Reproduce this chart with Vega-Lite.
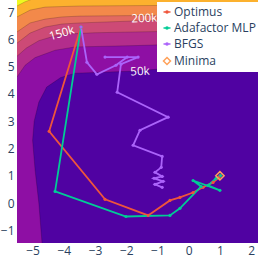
{
  "$schema": "https://vega.github.io/schema/vega-lite/v6.json",
  "width": 241,
  "height": 243,
  "autosize": "none",
  "padding": {"left": 17, "top": 0, "right": 0, "bottom": 15},
  "config": {
    "view": {"stroke": null, "fill": "#f0f921"},
    "font": "Open Sans",
    "axis": {"grid": false, "domain": false, "ticks": false, "labelFont": "Open Sans", "labelFontSize": 12, "labelColor": "#2a3f5f", "title": null, "labelOverlap": false, "labelBound": false}
  },
  "datasets": {
    "bands": [
      {"b": "b6", "i": 0, "x": -7, "y": -3}, {"b": "b6", "i": 1, "x": -7, "y": 7.0}, {"b": "b6", "i": 2, "x": -5.5, "y": 7.22}, {"b": "b6", "i": 3, "x": -5.25, "y": 7.37}, {"b": "b6", "i": 4, "x": -4.95, "y": 7.5}, {"b": "b6", "i": 5, "x": -4.6, "y": 7.6}, {"b": "b6", "i": 6, "x": 3, "y": 7.6}, {"b": "b6", "i": 7, "x": 3, "y": -3},
      {"b": "b5", "i": 0, "x": -7, "y": -3}, {"b": "b5", "i": 1, "x": -7, "y": 6.4}, {"b": "b5", "i": 2, "x": -5.5, "y": 6.82}, {"b": "b5", "i": 3, "x": -5.08, "y": 7.07}, {"b": "b5", "i": 4, "x": -4.6, "y": 7.18}, {"b": "b5", "i": 5, "x": -3.5, "y": 7.22}, {"b": "b5", "i": 6, "x": 3, "y": 7.27}, {"b": "b5", "i": 7, "x": 3, "y": -3},
      {"b": "b4", "i": 0, "x": -7, "y": -3}, {"b": "b4", "i": 1, "x": -7, "y": 5.8}, {"b": "b4", "i": 2, "x": -5.5, "y": 6.27}, {"b": "b4", "i": 3, "x": -5.08, "y": 6.6}, {"b": "b4", "i": 4, "x": -4.6, "y": 6.74}, {"b": "b4", "i": 5, "x": -4.06, "y": 6.82}, {"b": "b4", "i": 6, "x": -3.48, "y": 6.85}, {"b": "b4", "i": 7, "x": 3, "y": 6.92}, {"b": "b4", "i": 8, "x": 3, "y": -3},
      {"b": "b3", "i": 0, "x": -7, "y": -3}, {"b": "b3", "i": 1, "x": -7, "y": 5.4}, {"b": "b3", "i": 2, "x": -5.5, "y": 5.86}, {"b": "b3", "i": 3, "x": -5.08, "y": 6.23}, {"b": "b3", "i": 4, "x": -4.6, "y": 6.45}, {"b": "b3", "i": 5, "x": -4.06, "y": 6.56}, {"b": "b3", "i": 6, "x": -3.48, "y": 6.6}, {"b": "b3", "i": 7, "x": -1.56, "y": 6.68}, {"b": "b3", "i": 8, "x": 3, "y": 6.78}, {"b": "b3", "i": 9, "x": 3, "y": -3},
      {"b": "b2", "i": 0, "x": -7, "y": -3}, {"b": "b2", "i": 1, "x": -7, "y": 4.9}, {"b": "b2", "i": 2, "x": -5.5, "y": 5.38}, {"b": "b2", "i": 3, "x": -5.2, "y": 5.68}, {"b": "b2", "i": 4, "x": -4.8, "y": 5.95}, {"b": "b2", "i": 5, "x": -4.3, "y": 6.12}, {"b": "b2", "i": 6, "x": -3.8, "y": 6.2}, {"b": "b2", "i": 7, "x": -3.0, "y": 6.24}, {"b": "b2", "i": 8, "x": -1.72, "y": 6.27}, {"b": "b2", "i": 9, "x": 3, "y": 6.36}, {"b": "b2", "i": 10, "x": 3, "y": -3},
      {"b": "b1", "i": 0, "x": -7, "y": -3}, {"b": "b1", "i": 1, "x": -7, "y": 4.3}, {"b": "b1", "i": 2, "x": -5.5, "y": 4.62}, {"b": "b1", "i": 3, "x": -5.24, "y": 5.05}, {"b": "b1", "i": 4, "x": -4.92, "y": 5.33}, {"b": "b1", "i": 5, "x": -4.28, "y": 5.6}, {"b": "b1", "i": 6, "x": -3.64, "y": 5.72}, {"b": "b1", "i": 7, "x": -1.72, "y": 5.77}, {"b": "b1", "i": 8, "x": 0.5, "y": 5.85}, {"b": "b1", "i": 9, "x": 3, "y": 5.92}, {"b": "b1", "i": 10, "x": 3, "y": -3},
      {"b": "b0", "i": 0, "x": -4.72, "y": -3}, {"b": "b0", "i": 1, "x": -4.7, "y": -1.44}, {"b": "b0", "i": 2, "x": -4.8, "y": 0}, {"b": "b0", "i": 3, "x": -4.92, "y": 1.2}, {"b": "b0", "i": 4, "x": -5.0, "y": 2.3}, {"b": "b0", "i": 5, "x": -4.95, "y": 3.0}, {"b": "b0", "i": 6, "x": -4.8, "y": 3.7}, {"b": "b0", "i": 7, "x": -4.55, "y": 4.25}, {"b": "b0", "i": 8, "x": -4.1, "y": 4.6}, {"b": "b0", "i": 9, "x": -3.64, "y": 4.76}, {"b": "b0", "i": 10, "x": -3.16, "y": 4.78}, {"b": "b0", "i": 11, "x": -1.88, "y": 4.83}, {"b": "b0", "i": 12, "x": -0.6, "y": 4.94}, {"b": "b0", "i": 13, "x": 0.69, "y": 5.02}, {"b": "b0", "i": 14, "x": 3, "y": 5.12}, {"b": "b0", "i": 15, "x": 3, "y": -3}
    ],
    "traj": [
      {"s": "Optimus", "i": 0, "x": -3.45, "y": 6.45}, {"s": "Optimus", "i": 1, "x": -4.47, "y": 2.63}, {"s": "Optimus", "i": 2, "x": -2.68, "y": 0.14}, {"s": "Optimus", "i": 3, "x": -1.3, "y": -0.45}, {"s": "Optimus", "i": 4, "x": -0.6, "y": 0.1}, {"s": "Optimus", "i": 5, "x": -0.28, "y": 0.21}, {"s": "Optimus", "i": 6, "x": 0.14, "y": 0.39}, {"s": "Optimus", "i": 7, "x": 0.46, "y": 0.58}, {"s": "Optimus", "i": 8, "x": 0.78, "y": 0.76}, {"s": "Optimus", "i": 9, "x": 0.97, "y": 0.94}, {"s": "Optimus", "i": 10, "x": 1.0, "y": 1.0},
      {"s": "Adafactor MLP", "i": 0, "x": -3.45, "y": 6.45}, {"s": "Adafactor MLP", "i": 1, "x": -4.28, "y": 0.43}, {"s": "Adafactor MLP", "i": 2, "x": -2.01, "y": -0.49}, {"s": "Adafactor MLP", "i": 3, "x": -0.6, "y": -0.45}, {"s": "Adafactor MLP", "i": 4, "x": -0.28, "y": -0.19}, {"s": "Adafactor MLP", "i": 5, "x": 0.4, "y": 0.61}, {"s": "Adafactor MLP", "i": 6, "x": 0.14, "y": 0.83}, {"s": "Adafactor MLP", "i": 7, "x": 1.0, "y": 0.47}, {"s": "Adafactor MLP", "i": 8, "x": 0.62, "y": 0.65}, {"s": "Adafactor MLP", "i": 9, "x": 0.88, "y": 0.91}, {"s": "Adafactor MLP", "i": 10, "x": 1.02, "y": 1.01},
      {"s": "BFGS", "i": 0, "x": -3.45, "y": 6.45}, {"s": "BFGS", "i": 1, "x": -3.26, "y": 5.16}, {"s": "BFGS", "i": 2, "x": -2.94, "y": 4.72}, {"s": "BFGS", "i": 3, "x": -2.33, "y": 5.05}, {"s": "BFGS", "i": 4, "x": -1.97, "y": 5.35}, {"s": "BFGS", "i": 5, "x": -2.68, "y": 5.35}, {"s": "BFGS", "i": 6, "x": -1.62, "y": 5.35}, {"s": "BFGS", "i": 7, "x": -2.17, "y": 5.09}, {"s": "BFGS", "i": 8, "x": -2.29, "y": 4.06}, {"s": "BFGS", "i": 9, "x": -0.66, "y": 3.15}, {"s": "BFGS", "i": 10, "x": -1.56, "y": 2.67}, {"s": "BFGS", "i": 11, "x": -1.78, "y": 2.12}, {"s": "BFGS", "i": 12, "x": -0.85, "y": 1.71}, {"s": "BFGS", "i": 13, "x": -0.88, "y": 1.31}, {"s": "BFGS", "i": 14, "x": -1.08, "y": 1.13}, {"s": "BFGS", "i": 15, "x": -0.85, "y": 0.98}, {"s": "BFGS", "i": 16, "x": -1.11, "y": 0.91}, {"s": "BFGS", "i": 17, "x": -0.82, "y": 0.8}, {"s": "BFGS", "i": 18, "x": -1.08, "y": 0.69}, {"s": "BFGS", "i": 19, "x": -0.85, "y": 0.58}
    ],
    "minima": [{"s": "Minima", "x": 1, "y": 1}],
    "labels": [
      {"t": "150k", "x": -4.06, "y": 6.2, "a": -16},
      {"t": "50k", "x": -1.56, "y": 4.8, "a": -3},
      {"t": "200k", "x": -1.42, "y": 6.74, "a": -2}
    ]
  },
  "encoding": {
    "x": {"field": "x", "type": "quantitative", "scale": {"domain": [-5.5, 2.22], "nice": false, "zero": false}, "axis": {"values": [-5, -4, -3, -2, -1, 0, 1, 2], "labelPadding": 2, "labelOverlap": false}},
    "y": {"field": "y", "type": "quantitative", "scale": {"domain": [-1.46, 7.44], "nice": false, "zero": false}, "axis": {"values": [-1, 0, 1, 2, 3, 4, 5, 6, 7], "labelPadding": 3, "labelOverlap": false}}
  },
  "layer": [
    {
      "data": {"name": "bands"},
      "mark": {"type": "line", "clip": true, "strokeWidth": 0.6, "stroke": "#000000", "strokeOpacity": 0.3},
      "encoding": {
        "fill": {"field": "b", "type": "nominal", "scale": {"domain": ["b6", "b5", "b4", "b3", "b2", "b1", "b0"], "range": ["#fcb12e", "#f3894a", "#e26961", "#cd4a76", "#b32d8c", "#8e0fa4", "#5002a2"]}, "legend": null},
        "order": {"field": "i", "type": "quantitative"}
      }
    },
    {
      "data": {"name": "traj"},
      "mark": {"type": "line", "clip": true, "strokeWidth": 1.8},
      "encoding": {
        "color": {"field": "s", "type": "nominal", "scale": {"domain": ["Optimus", "Adafactor MLP", "BFGS", "Minima"], "range": ["#EF553B", "#00cc96", "#ab63fa", "#FFA15A"]},
          "legend": {"title": null, "orient": "none", "legendX": 140, "legendY": 2, "fillColor": "#ffffff", "padding": 4, "labelFont": "Open Sans", "labelFontSize": 12, "labelColor": "#2a3f5f", "symbolSize": 49, "labelOffset": 1, "rowPadding": 4,
            "encode": {"symbols": {"update": {
              "shape": {"signal": "datum.value === 'Minima' ? 'diamond' : 'M-1,0H1M0.3,0A0.3,0.3 0 1 1 -0.3,0A0.3,0.3 0 1 1 0.3,0Z'"},
              "stroke": {"signal": "scale('color', datum.value)"},
              "fill": {"signal": "scale('color', datum.value)"},
              "fillOpacity": {"signal": "datum.value === 'Minima' ? 0 : 1"},
              "strokeWidth": {"value": 1.5}
            }}}}},
        "order": {"field": "i", "type": "quantitative"}
      }
    },
    {
      "data": {"name": "traj"},
      "mark": {"type": "point", "filled": true, "size": 10, "opacity": 1, "clip": true},
      "encoding": {
        "color": {"field": "s", "type": "nominal"}
      }
    },
    {
      "data": {"name": "minima"},
      "mark": {"type": "point", "shape": "diamond", "filled": false, "size": 70, "strokeWidth": 1.5, "opacity": 1},
      "encoding": {
        "color": {"field": "s", "type": "nominal"}
      }
    },
    {
      "data": {"name": "labels"},
      "mark": {"type": "text", "color": "#ffffff", "font": "Open Sans", "fontSize": 11.5},
      "encoding": {
        "text": {"field": "t"},
        "angle": {"field": "a", "type": "quantitative", "scale": null}
      }
    }
  ]
}
